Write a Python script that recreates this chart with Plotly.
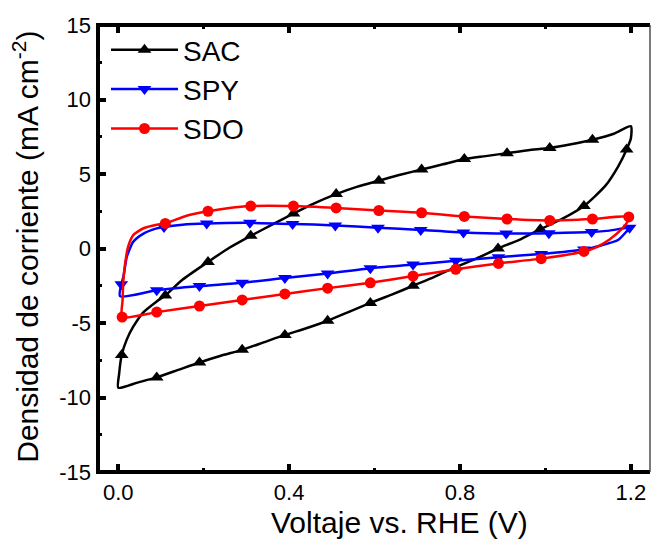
import plotly.graph_objects as go

FONT = "Liberation Sans, Arial, sans-serif"

# Cyclic voltammograms: potential (V vs. RHE) and current density (mA cm^-2),
# listed in scan order around each closed loop.
sac_v = [0.000, 0.002, 0.008, 0.020, 0.035, 0.058, 0.090, 0.110, 0.150, 0.210,
         0.260, 0.310, 0.360, 0.410, 0.460, 0.510, 0.560, 0.610, 0.660, 0.710,
         0.760, 0.810, 0.860, 0.910, 0.960, 1.010, 1.060, 1.110, 1.160, 1.200,
         1.200, 1.190, 1.170, 1.140, 1.090, 1.040, 0.988, 0.940, 0.889, 0.840,
         0.790, 0.740, 0.690, 0.640, 0.590, 0.540, 0.490, 0.440, 0.390, 0.340,
         0.290, 0.240, 0.190, 0.140, 0.090, 0.045, 0.000]
sac_j = [-9.35, -8.40, -7.15, -6.10, -5.25, -4.30, -3.55, -3.15, -2.10, -0.90,
         0.05, 0.85, 1.60, 2.35, 3.05, 3.65, 4.15, 4.55, 4.95, 5.30,
         5.65, 6.00, 6.20, 6.40, 6.60, 6.75, 7.00, 7.30, 7.70, 8.20,
         7.40, 6.65, 5.50, 4.20, 2.85, 2.00, 1.30, 0.60, 0.00, -0.65,
         -1.25, -1.90, -2.50, -3.10, -3.65, -4.25, -4.85, -5.35, -5.80, -6.30,
         -6.80, -7.20, -7.65, -8.15, -8.65, -9.00, -9.35]
sac_marks = [2, 7, 9, 11, 13, 15, 17, 19, 21, 23, 25, 27,
             31, 34, 36, 38, 40, 42, 44, 46, 48, 50, 52, 54]

spy_v = [0.004, 0.007, 0.012, 0.020, 0.035, 0.059, 0.090, 0.107, 0.150, 0.207,
         0.308, 0.408, 0.508, 0.608, 0.708, 0.808, 0.908, 1.008, 1.108, 1.150,
         1.197, 1.190, 1.170, 1.130, 1.090, 0.990, 0.890, 0.790, 0.690, 0.590,
         0.490, 0.390, 0.290, 0.190, 0.090, 0.004]
spy_j = [-3.20, -2.40, -1.90, -0.55, 0.45, 1.00, 1.35, 1.45, 1.60, 1.68,
         1.72, 1.65, 1.55, 1.40, 1.25, 1.08, 1.00, 1.03, 1.10, 1.20,
         1.40, 1.15, 0.57, 0.20, -0.07, -0.37, -0.58, -0.82, -1.08, -1.32,
         -1.68, -1.98, -2.30, -2.52, -2.80, -3.20]
spy_marks = [1, 7, 9, 10, 11, 12, 13, 14, 15, 16, 17, 18, 20,
             24, 25, 26, 27, 28, 29, 30, 31, 32, 33, 34]

sdo_v = [0.009, 0.010, 0.012, 0.016, 0.023, 0.035, 0.059, 0.090, 0.110, 0.160,
         0.210, 0.260, 0.310, 0.410, 0.510, 0.610, 0.710, 0.810, 0.910, 1.010,
         1.110, 1.195, 1.190, 1.180, 1.150, 1.120, 1.090, 0.990, 0.890, 0.790,
         0.690, 0.590, 0.490, 0.390, 0.290, 0.190, 0.090, 0.009]
sdo_j = [-4.60, -3.50, -2.10, -1.00, 0.12, 0.90, 1.36, 1.60, 1.68, 2.20,
         2.50, 2.72, 2.85, 2.85, 2.72, 2.55, 2.40, 2.15, 1.98, 1.88,
         1.98, 2.12, 1.70, 1.35, 0.60, 0.10, -0.20, -0.68, -1.00, -1.40,
         -1.85, -2.30, -2.66, -3.05, -3.45, -3.86, -4.27, -4.60]
sdo_marks = [0, 8, 10, 12, 13, 14, 15, 16, 17, 18, 19, 20, 21,
             26, 27, 28, 29, 30, 31, 32, 33, 34, 35, 36]

x_ticks = [0.0, 0.4, 0.8, 1.2]
x_tick_text = ["0.0", "0.4", "0.8", "1.2"]
y_ticks = [-15, -10, -5, 0, 5, 10, 15]
y_tick_text = ["-15", "-10", "-5", "0", "5", "10", "15"]

series = [
    ("SAC", sac_v, sac_j, sac_marks, "#000000", "triangle-up", 12),
    ("SPY", spy_v, spy_j, spy_marks, "#0000FF", "triangle-down", 12),
    ("SDO", sdo_v, sdo_j, sdo_marks, "#FF0000", "circle", 11),
]

fig = go.Figure()
for name, v, j, marks, color, symbol, msize in series:
    line_style = dict(color=color, width=2.5)
    marker_style = dict(symbol=symbol, size=msize, color=color, line=dict(width=0))
    fig.add_trace(go.Scatter(
        x=v, y=j, mode="lines",
        line=dict(shape="spline", smoothing=0.6, **line_style),
        showlegend=False, legendgroup=name, hoverinfo="skip"))
    fig.add_trace(go.Scatter(
        x=[v[i] for i in marks], y=[j[i] for i in marks], mode="markers",
        marker=marker_style, showlegend=False, legendgroup=name))
    # legend entry (line with a marker)
    fig.add_trace(go.Scatter(
        x=[None], y=[None], mode="lines+markers", name=name,
        line=line_style, marker=marker_style, legendgroup=name))

# frame: heavy left/bottom/top, thin right
frame = [
    dict(x0=0, x1=0, y0=-0.0045, y1=1.0045, w=4, c="#000000"),
    dict(x0=-0.0036, x1=1, y0=0, y1=0, w=4, c="#000000"),
    dict(x0=-0.0036, x1=1, y0=1, y1=1, w=4, c="#000000"),
    dict(x0=1, x1=1, y0=0, y1=1, w=1.3, c="#333333"),
]
for f in frame:
    fig.add_shape(type="line", xref="paper", yref="paper",
                  x0=f["x0"], x1=f["x1"], y0=f["y0"], y1=f["y1"],
                  line=dict(color=f["c"], width=f["w"]), layer="above")

tick_font = dict(family=FONT, size=22, color="#000000")

fig.update_layout(
    width=652, height=546,
    margin=dict(l=98, r=2, t=25, b=74),
    paper_bgcolor="white", plot_bgcolor="white",
    font=dict(family=FONT, color="#000000"),
    showlegend=True,
    legend=dict(
        x=0.0145, y=1.0, xanchor="left", yanchor="top",
        bgcolor="rgba(0,0,0,0)", borderwidth=0,
        font=dict(family=FONT, size=28, color="#000000"),
        itemwidth=67, tracegroupgap=0,
    ),
    xaxis=dict(
        range=[-0.0475, 1.2447], showgrid=False, zeroline=False, showline=False,
        tickmode="array", tickvals=x_ticks, ticktext=x_tick_text,
        ticks="inside", ticklen=8, tickwidth=4, tickcolor="#000000",
        mirror="ticks", tickfont=tick_font, ticklabelstandoff=5,
        minor=dict(tickmode="array", tickvals=[0.2, 0.6, 1.0], ticks="inside",
                   ticklen=4, tickwidth=3, tickcolor="#000000"),
    ),
    yaxis=dict(
        range=[-15, 15], showgrid=False, zeroline=False, showline=False,
        tickmode="array", tickvals=y_ticks, ticktext=y_tick_text,
        ticks="inside", ticklen=8, tickwidth=4, tickcolor="#000000",
        tickfont=tick_font, ticklabelstandoff=6,
        minor=dict(tickmode="array", tickvals=[-12.5, -7.5, -2.5, 2.5, 7.5, 12.5],
                   ticks="inside", ticklen=4, tickwidth=3, tickcolor="#000000"),
    ),
    annotations=[
        dict(text="Voltaje vs. RHE (V)", xref="paper", yref="paper",
             x=0.547, y=-0.112, xanchor="center", yanchor="middle",
             showarrow=False, font=dict(family=FONT, size=30, color="#000000")),
        dict(text="Densidad de corriente (mA cm<sup>-2</sup>)", xref="paper", yref="paper",
             x=-0.13, y=0.5045, xanchor="center", yanchor="middle", textangle=-90,
             showarrow=False, font=dict(family=FONT, size=30, color="#000000")),
    ],
)

fig.write_html("out.html")
